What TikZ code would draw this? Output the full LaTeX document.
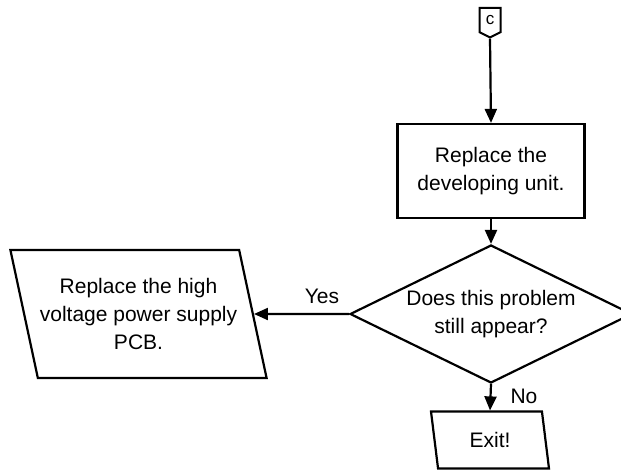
\documentclass[tikz,border=0pt]{standalone}
\usepackage{fontspec}
\setmainfont{Liberation Sans}
\usetikzlibrary{arrows.meta,shapes.geometric,shapes.symbols}

\tikzset{
    box/.style={draw, line width=2.2pt, align=center, font=\fontsize{21}{28}\selectfont},
    process/.style={box, rectangle, minimum width=187pt, minimum height=94pt},
    decision/.style={box, diamond, aspect=2, inner sep=0pt, minimum width=282pt, minimum height=138pt},
    datashape/.style={box, trapezium, trapezium left angle=110, trapezium right angle=70,
        trapezium stretches body, inner sep=2pt},
    offpage/.style={draw, line width=2pt, signal, signal to=south, signal pointer angle=127,
        minimum width=21pt, minimum height=27pt, inner sep=1pt, font=\fontsize{17}{17}\selectfont},
    flow/.style={line width=2.2pt, -{Triangle[length=14pt,width=12pt]}},
    lbl/.style={font=\fontsize{21}{24}\selectfont}
}

\begin{document}
\begin{tikzpicture}[x=1pt,y=-1pt]
    \useasboundingbox (0,0) rectangle (621,471);

    % spojka nahoře
    \node[offpage] (conn) at (490,20) {c};

    % kroky
    \node[process] (unit) at (491,171) {Replace the\\developing unit.};
    \node[decision] (ask) at (491,314) {Does this problem\\still appear?};
    \node[datashape, minimum width=246pt, minimum height=128pt] (hv) at (138.5,314)
        {Replace the high\\voltage power supply\\PCB.};
    \node[datashape, minimum width=118pt, minimum height=57pt] (exit) at (490,440) {Exit!};

    % šipky
    \draw[flow] (conn.south) -- (unit.north);
    \draw[flow] (unit.south) -- (ask.north);
    \draw[flow] (ask.west) -- (hv.east);
    \draw[flow] (ask.south) -- (exit.north);

    % popisky větví
    \node[lbl] (yes) at (322,296) {Yes};
    \node[lbl] (no) at (524,396) {No};
\end{tikzpicture}
\end{document}
